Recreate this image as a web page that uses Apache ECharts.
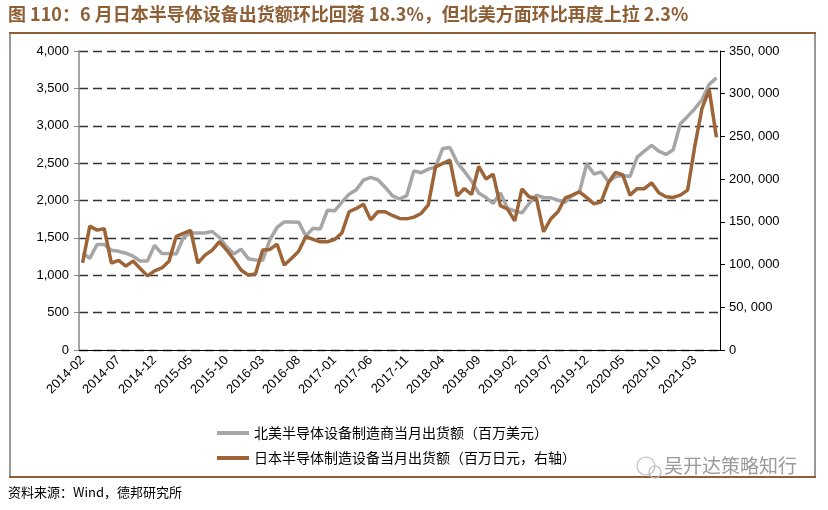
<!DOCTYPE html>
<html>
<head>
<meta charset="utf-8">
<script src="https://cdn.jsdelivr.net/npm/echarts@6/dist/echarts.min.js"></script>
<style>
html,body{margin:0;padding:0;background:#fff;}
#c{width:828px;height:510px;}
</style>
</head>
<body>
<div id="c"></div>
<script>
// Months 2014-02 .. 2021-06
const months = [];
for (let y = 2014, m = 2; !(y === 2021 && m > 6); ) {
  months.push(y + '-' + (m < 10 ? '0' + m : m));
  m++; if (m > 12) { m = 1; y++; }
}
const seriesNames = ['北美半导体设备制造商当月出货额（百万美元）', '日本半导体制造设备当月出货额（百万日元，右轴）'];
const naShipments = [
  1300,1225,1410,1410,1335,1320,1295,1255,1190,1190,
  1400,1290,1290,1285,1505,1565,1565,1565,1585,1505,
  1380,1285,1350,1222,1205,1200,1475,1640,1714,1714,
  1710,1525,1630,1620,1870,1862,1978,2085,2143,2272,
  2310,2278,2178,2065,2020,2065,2397,2372,2420,2446,
  2696,2710,2510,2390,2260,2100,2040,1960,2103,1893,
  1862,1835,1960,2071,2040,2036,2004,1975,2070,2120,
  2490,2353,2384,2250,2320,2335,2321,2580,2661,2737,
  2661,2616,2679,3027,3125,3228,3348,3554,3640
];
const jpShipments = [
  102000,145000,140300,142000,101800,104800,98200,104100,95500,86800,
  92600,96000,103900,133000,136500,140000,101700,111000,116900,126700,
  117000,106000,93600,87700,88900,117000,117700,123800,99400,107200,
  115500,132800,129400,126700,126700,129400,137000,161800,165700,170700,
  152300,161800,161800,157500,154000,153500,155500,159800,170000,214400,
  218300,222200,180300,189000,182000,214800,200200,205800,169000,165000,
  151200,188500,179300,177400,138400,153400,161800,178000,181300,185200,
  178400,171000,173500,195700,208000,205000,181300,188900,188900,195700,
  184000,179300,178600,181300,187100,238600,282700,304900,249100
];
const leftTicks = [0, 4000, 500];
const rightTicks = [0, 350000, 50000];
const titleText = '图 110：6 月日本半导体设备出货额环比回落 18.3%，但北美方面环比再度上拉 2.3%';
const sourceText = '资料来源：Wind，德邦研究所';
const watermark = '吴开达策略知行';

const GRAY = '#A6A6A6', BROWN = '#9C6437';
const fmt = (v, sep) => String(v).replace(/\B(?=(\d{3})+(?!\d))/g, sep);

const chart = echarts.init(document.getElementById('c'), null, {renderer: 'canvas'});
chart.setOption({
  animation: false,
  backgroundColor: '#fff',
  textStyle: {fontFamily: 'Liberation Sans, Arial, sans-serif'},
  graphic: [
    {type: 'text', left: 8, top: 5, style: {text: titleText, fill: '#8E5E34', font: 'bold 18px "Noto Sans CJK SC", sans-serif'}},
    {type: 'line', shape: {x1: 9, y1: 33, x2: 816, y2: 33}, style: {stroke: '#8E5E34', lineWidth: 2}},
    {type: 'line', shape: {x1: 10, y1: 34, x2: 10, y2: 476}, style: {stroke: '#333', lineWidth: 1}},
    {type: 'line', shape: {x1: 815, y1: 34, x2: 815, y2: 476}, style: {stroke: '#333', lineWidth: 1}},
    {type: 'line', shape: {x1: 9, y1: 477, x2: 816, y2: 477}, style: {stroke: '#8E5E34', lineWidth: 2}},
    {type: 'text', left: 8, top: 486, style: {text: sourceText, fill: '#000', font: '13px "Noto Sans CJK SC", sans-serif'}},
    {type: 'circle', shape: {cx: 646, cy: 466, r: 9}, style: {fill: 'none', stroke: '#bbb', lineWidth: 1.2}},
    {type: 'circle', shape: {cx: 655, cy: 472, r: 6}, style: {fill: 'none', stroke: '#bbb', lineWidth: 1.2}},
    {type: 'text', left: 664, top: 456, style: {text: watermark, fill: '#999', font: '19px "Noto Sans CJK SC", sans-serif'}}
  ],
  legend: {
    orient: 'vertical',
    left: 212,
    top: 421,
    itemWidth: 32,
    itemHeight: 4,
    itemGap: 11,
    icon: 'rect',
    textStyle: {fontSize: 14, color: '#000', fontFamily: '"Noto Sans CJK SC", sans-serif'},
    data: seriesNames
  },
  grid: {left: 79, right: 108, top: 51, bottom: 160},
  xAxis: {
    type: 'category',
    data: months,
    boundaryGap: true,
    axisLine: {lineStyle: {color: '#000', width: 1}},
    axisTick: {interval: 4, length: 5, lineStyle: {color: '#000'}},
    axisLabel: {interval: 4, rotate: 45, fontSize: 13, color: '#000', margin: 8}
  },
  yAxis: [
    {
      type: 'value', min: leftTicks[0], max: leftTicks[1], interval: leftTicks[2],
      axisLine: {show: true, lineStyle: {color: '#888', width: 1.5}},
      axisTick: {show: true, length: 5, lineStyle: {color: '#888'}},
      axisLabel: {fontSize: 13, color: '#000', margin: 10, formatter: v => fmt(v, ',')},
      splitLine: {show: true, lineStyle: {color: '#333', type: [9, 5], width: 1.3}}
    },
    {
      type: 'value', min: rightTicks[0], max: rightTicks[1], interval: rightTicks[2],
      position: 'right',
      axisLine: {show: true, lineStyle: {color: '#000', width: 1}},
      axisTick: {show: true, length: 5, lineStyle: {color: '#000'}},
      axisLabel: {fontSize: 13, color: '#000', margin: 9, formatter: v => fmt(v, ', ')},
      splitLine: {show: false}
    }
  ],
  series: [
    {name: seriesNames[0], type: 'line', yAxisIndex: 0, data: naShipments, symbol: 'none',
     lineStyle: {color: GRAY, width: 3.5}, itemStyle: {color: GRAY}, z: 2},
    {name: seriesNames[1], type: 'line', yAxisIndex: 1, data: jpShipments, symbol: 'none',
     lineStyle: {color: BROWN, width: 3.5}, itemStyle: {color: BROWN}, z: 3}
  ]
});
</script>
</body>
</html>
